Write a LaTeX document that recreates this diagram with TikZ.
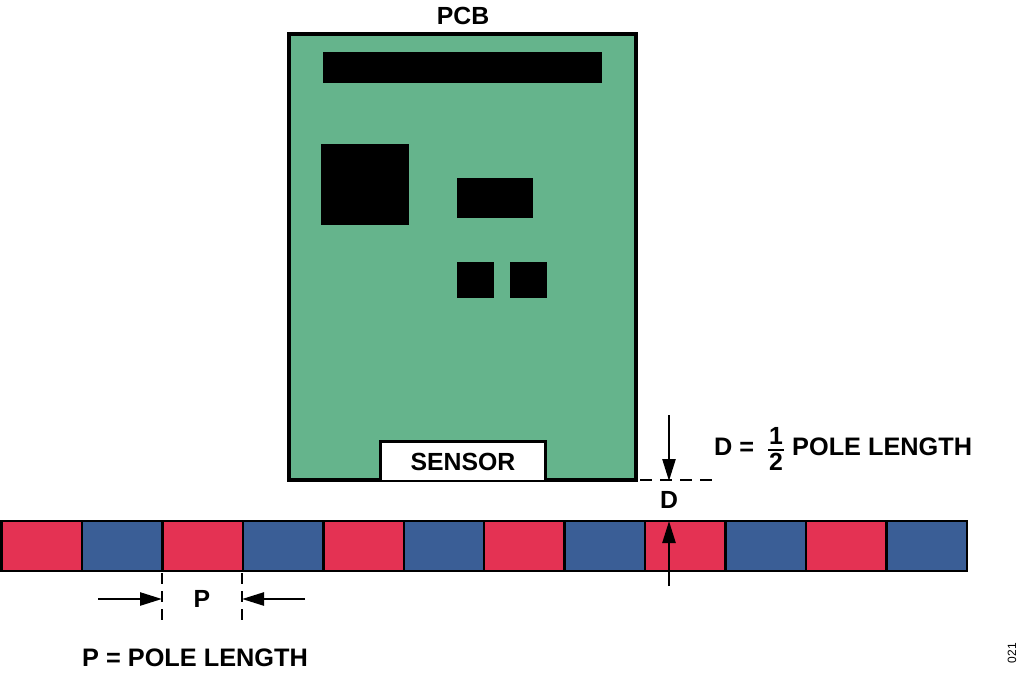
\documentclass[tikz,border=0pt]{standalone}
\usepackage{fontspec}
\setmainfont{Liberation Sans}
\usetikzlibrary{arrows.meta}
\definecolor{pcbgreen}{RGB}{101,180,140}
\definecolor{polered}{RGB}{228,50,83}
\definecolor{poleblue}{RGB}{58,94,150}
\tikzset{
  lbl/.style={font=\fontsize{24.8}{28}\selectfont\bfseries, inner sep=0pt},
  wlbl/.style={font=\fontsize{25.3}{28}\selectfont\bfseries, inner sep=0pt},
  chip/.style={fill=black, draw=none},
  dimarrow/.style={line width=2.5pt, -{Triangle[length=22pt,width=13pt]}},
  dimdash/.style={line width=2.5pt, dash pattern=on 12pt off 8pt},
  pole/.style={draw=black, line width=2.5pt},
}
\begin{document}
\begin{tikzpicture}[x=1pt,y=-1pt]
\useasboundingbox (0,0) rectangle (1024,677);
% PCB
\draw[fill=pcbgreen, line width=3.5pt] (289,34) rectangle (636,480);
\node[lbl] (pcb) at (463,16) {PCB};
\fill[chip] (323,52) rectangle (602,83);
\fill[chip] (321,144) rectangle (409,225);
\fill[chip] (457,178) rectangle (533,218);
\fill[chip] (457,262) rectangle (494,298);
\fill[chip] (510,262) rectangle (547,298);
% sensor
\draw[fill=white, line width=3pt] (380.5,480) |- (545.5,441.5) -- (545.5,480);
\node[lbl] (sensor) at (463,462) {SENSOR};
% magnetic strip
\foreach \i in {0,...,11}{
  \pgfmathsetmacro{\xa}{1.5+\i*80.45}
  \pgfmathsetmacro{\xb}{1.5+(\i+1)*80.45}
  \pgfmathparse{mod(\i,2)==0 ? "polered" : "poleblue"}
  \edef\col{\pgfmathresult}
  \draw[pole, fill=\col] (\xa,521) rectangle (\xb,571);
}
% D annotation
\coordinate (dl) at (640,480);
\coordinate (dr) at (717,480);
\draw[dimdash] (dl) -- (dr);
\coordinate (dtop) at (669,415);
\coordinate (dtip) at (669,481);
\draw[dimarrow] (dtop) -- (dtip);
\node[lbl] (dlab) at (669,500) {D};
\coordinate (ubot) at (669,586);
\coordinate (utip) at (669,521);
\draw[dimarrow] (ubot) -- (utip);
\node[wlbl, anchor=west] (deq) at (714,447) {D =};
\node[lbl] (f1) at (776,436) {1};
\node[lbl] (f2) at (776,462) {2};
\draw[line width=2pt] (768,449.5) -- (784,449.5);
\node[wlbl, anchor=west] (poleL) at (792,447) {POLE LENGTH};
% P annotation
\coordinate (pl1) at (162,573);
\coordinate (pl2) at (162,626);
\coordinate (pr1) at (242,573);
\coordinate (pr2) at (242,626);
\draw[line width=2.5pt, dash pattern=on 11pt off 7pt] (pl1) -- (pl2);
\draw[line width=2.5pt, dash pattern=on 11pt off 7pt] (pr1) -- (pr2);
\coordinate (al) at (98,599);
\coordinate (alt) at (162,599);
\coordinate (ar) at (305,599);
\coordinate (art) at (242,599);
\draw[dimarrow] (al) -- (alt);
\draw[dimarrow] (ar) -- (art);
\node[lbl] (plab) at (202,599) {P};
\node[wlbl, anchor=west] (peq) at (82,658) {P = POLE LENGTH};
% figure number
\node[font=\fontsize{12}{14}\selectfont, rotate=90, inner sep=0pt] (fig) at (1012,653) {021};
\end{tikzpicture}
\end{document}
